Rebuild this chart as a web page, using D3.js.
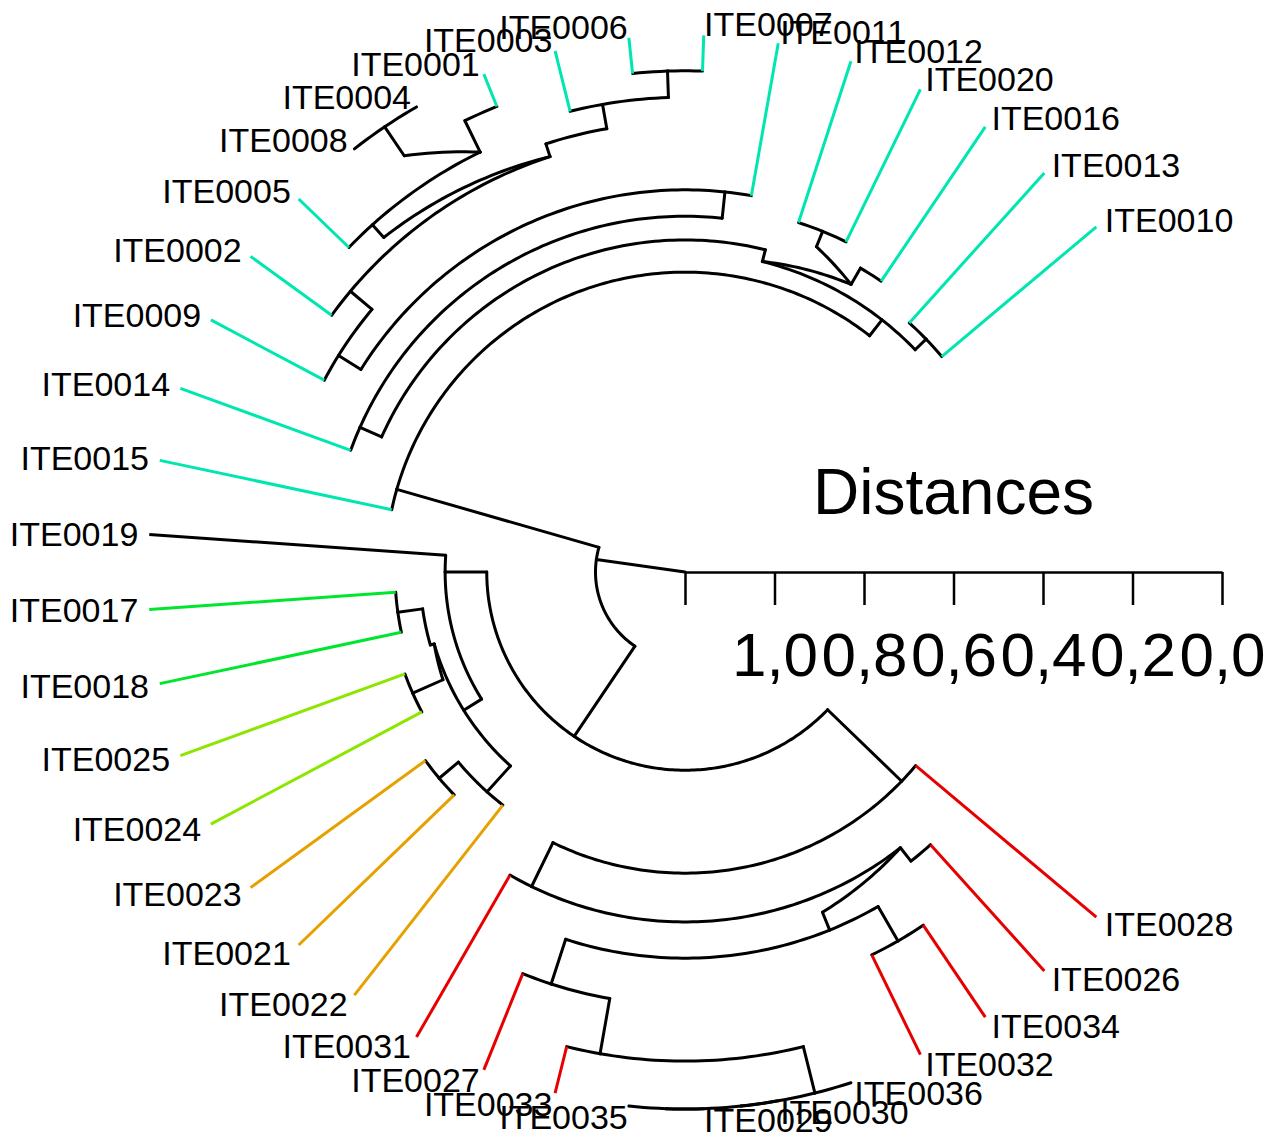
<!DOCTYPE html>
<html>
<head>
<meta charset="utf-8">
<script src="https://cdn.jsdelivr.net/npm/d3@7"></script>
<style>
  html, body { margin: 0; padding: 0; background: #ffffff; }
  svg { display: block; }
  text { font-family: "Liberation Sans", Arial, Helvetica, sans-serif; fill: #000; }
</style>
</head>
<body>
<svg id="chart" width="1281" height="1137"></svg>
<script>
// Leaves in drawing order (counter-clockwise, starting at the upper right)
const leafLabels = [
  "ITE0010","ITE0013","ITE0016","ITE0020","ITE0012","ITE0011","ITE0007","ITE0006",
  "ITE0003","ITE0001","ITE0004","ITE0008","ITE0005","ITE0002","ITE0009","ITE0014",
  "ITE0015","ITE0019","ITE0017","ITE0018","ITE0025","ITE0024","ITE0023","ITE0021",
  "ITE0022","ITE0031","ITE0027","ITE0033","ITE0035","ITE0029","ITE0030","ITE0036",
  "ITE0032","ITE0034","ITE0026","ITE0028"
];
// Cluster of each leaf (index into groupColors)
const leafGroup = [
  1,1,1,1,1,1,1,1,1,1,1,1,1,1,1,1,1,
  0,
  2,2,
  3,3,
  4,4,4,
  5,5,5,5,5,5,5,5,5,5,5
];
const groupColors = ["#000000", "#00E6B0", "#00E62E", "#8CE600", "#E6A100", "#E60000"];

// Agglomeration steps, hclust style: negative = leaf (1-based drawing index),
// positive = row of an earlier step
const mergeLeft  = [-11,-29,  2,  3,-10, -7,-28,  6,  5,  8, 10,-27,-33, 11, 12, -6, -4, 15, 16, -3,-26, -1, 20,-23, 22, 21, 25,-21, 24,-19, 30, 31,-18, 33, 27];
const mergeRight = [-12,-30,-31,-32,  1, -8,  4, -9,-13,  9,-14,  7,-34,-15, 13, 14, -5,-35,-16, 17, 18, -2, 19,-24, 23,-36,-17,-22,-25,-20, 28, 29, 32, 26, 34];
const mergeHeight = [
  0.000, 0.000, 0.000, 0.000, 0.078, 0.080, 0.107, 0.139, 0.156, 0.194,
  0.224, 0.232, 0.248, 0.287, 0.337, 0.346, 0.379, 0.380, 0.405, 0.416,
  0.418, 0.451, 0.458, 0.483, 0.485, 0.527, 0.530, 0.534, 0.539, 0.552,
  0.608, 0.617, 0.664, 0.757, 1.000
];
// Steps whose link to one child (1 = first, 2 = second) runs up to the next level
const slantedJoins = [[5, 2], [10, 2], [18, 1], [20, 2], [23, 1], [31, 2]];

const axisTicks = [1.2, 1.0, 0.8, 0.6, 0.4, 0.2, 0.0];
const axisTitle = "Distances";

// ---- layout -------------------------------------------------------------
const svg = d3.select("#chart");
const cx = 685, cy = 572, outerR = 537;
const hMax = axisTicks[0];
const deg = Math.PI / 180;

const radius = d3.scaleLinear().domain([hMax, 0]).range([0, outerR]);
const angle = d3.scaleLinear().domain([0, leafLabels.length - 1]).range([50 * deg, -230 * deg]);

const leaves = leafLabels.map((label, i) => ({ leaf: true, label, group: leafGroup[i], lo: i, hi: i, pos: i, h: 0 }));
const nodes = [];
const ref = c => (c < 0 ? leaves[-c - 1] : nodes[c - 1]);

mergeLeft.forEach((l, i) => {
  let a = ref(l), b = ref(mergeRight[i]);
  if (a.lo > b.lo) [a, b] = [b, a];
  const n = { leaf: false, row: i + 1, a, b, lo: a.lo, hi: b.hi, pos: a.hi + 0.5, h: mergeHeight[i] };
  a.parent = n; b.parent = n;
  nodes.push(n);
});
const root = nodes[nodes.length - 1];

function sample(p0, p1) {
  const steps = Math.max(2, Math.ceil(Math.abs(p1[0] - p0[0]) * 10));
  return d3.range(steps + 1).map(k => [
    p0[0] + (p1[0] - p0[0]) * k / steps,
    p0[1] + (p1[1] - p0[1]) * k / steps
  ]);
}

const blackSegs = [], leafSegs = [];
nodes.forEach(n => {
  const parentH = n.parent ? n.parent.h : hMax;
  [n.a, n.b].forEach((c, k) => {
    if (c.h !== n.h) {
      const stem = [[c.pos, c.h], [c.pos, n.h]];
      if (c.leaf) leafSegs.push({ pts: stem, color: groupColors[c.group] });
      else blackSegs.push({ pts: stem });
    }
    const slant = slantedJoins.some(s => s[0] === n.row && s[1] === k + 1);
    const end = slant ? [n.pos, parentH] : [n.pos, n.h];
    blackSegs.push({ pts: sample([c.pos, n.h], end) });
  });
});
blackSegs.push({ pts: [[root.pos, root.h], [root.pos, hMax]] });

const radial = d3.lineRadial()
  .angle(d => angle(d[0]))
  .radius(d => radius(d[1]));

const tree = svg.append("g").attr("transform", `translate(${cx},${cy})`);

tree.append("g").selectAll("path").data(blackSegs).join("path")
  .attr("d", d => radial(d.pts))
  .attr("fill", "none")
  .attr("stroke", "#000")
  .attr("stroke-width", 3)
  .attr("stroke-linecap", "round")
  .attr("stroke-linejoin", "round");

tree.append("g").selectAll("path").data(leafSegs).join("path")
  .attr("d", d => radial(d.pts))
  .attr("fill", "none")
  .attr("stroke", d => d.color)
  .attr("stroke-width", 3)
  .attr("stroke-linecap", "butt");

// leaf labels, kept horizontal
const labelR = outerR + 11;
tree.append("g").selectAll("text").data(leaves).join("text")
  .attr("x", d => labelR * Math.sin(angle(d.pos)))
  .attr("y", d => -labelR * Math.cos(angle(d.pos)))
  .attr("dy", "0.35em")
  .attr("text-anchor", d => (Math.sin(angle(d.pos)) >= 0 ? "start" : "end"))
  .style("font-size", "34px")
  .text(d => d.label);

// distance axis in the gap
const fmt = d3.format(".1f");
const axis = d3.axisBottom(radius)
  .tickValues(axisTicks)
  .tickSize(33)
  .tickSizeOuter(0)
  .tickFormat(d => (d === hMax ? "" : fmt(d).replace(".", ",")));

const axisG = tree.append("g").call(axis);
axisG.select(".domain").attr("stroke", "#000").attr("stroke-width", 2.5);
axisG.selectAll(".tick line").attr("stroke", "#000").attr("stroke-width", 2.5);
axisG.selectAll(".tick text")
  .attr("y", 104)
  .attr("dy", 0)
  .attr("fill", "#000")
  .style("font-size", "62px")
  .style("font-family", "'Liberation Sans', Arial, Helvetica, sans-serif");

tree.append("text")
  .attr("x", radius(0.6))
  .attr("y", -58)
  .attr("text-anchor", "middle")
  .style("font-size", "64px")
  .text(axisTitle);
</script>
</body>
</html>
